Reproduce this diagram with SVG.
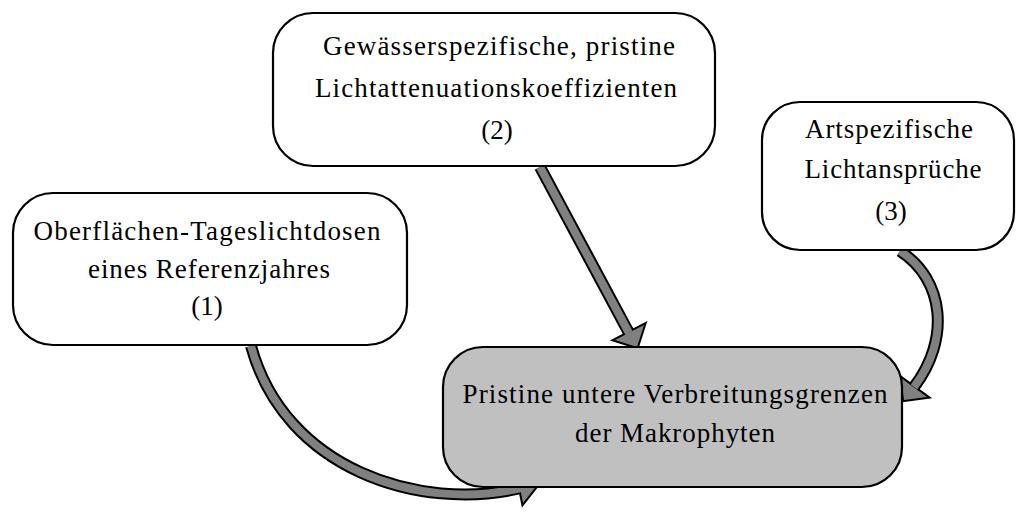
<svg xmlns="http://www.w3.org/2000/svg" width="1020" height="512" viewBox="0 0 1020 512">
<style>
.box{fill:#ffffff;stroke:#000;stroke-width:2.2}
.box.gray{fill:#c0c0c0}
text{font-family:"Liberation Serif","Times New Roman",serif;font-size:27px;fill:#000;text-anchor:middle}
.so{fill:none;stroke:#000;stroke-width:12}
.sf{fill:none;stroke:#808080;stroke-width:8}
.ho{fill:#000;stroke:#000;stroke-width:4;stroke-linejoin:miter}
.hf{fill:#808080}
</style>
<rect width="1020" height="512" fill="#fff"/>
<g id="connectors">
  <g id="c1">
    <path class="so" d="M251 346 C285 470 420 512 521 488"/>
    <polygon class="ho" points="538,484 517,473 523,503"/>
    <path class="sf" d="M251 346 C285 470 420 512 521 488"/>
    <polygon class="hf" points="538,484 517,473 523,503"/>
  </g>
  <g id="c2">
    <path class="so" d="M540 167 L629 333"/>
    <polygon class="ho" points="637,347 644,325 615,340"/>
    <path class="sf" d="M540 167 L629 333"/>
    <polygon class="hf" points="637,347 644,325 615,340"/>
  </g>
  <g id="c3">
    <path class="so" d="M900 251 C945 280 950 340 914 387"/>
    <polygon class="ho" points="904,400 927,397 901,378"/>
    <path class="sf" d="M900 251 C945 280 950 340 914 387"/>
    <polygon class="hf" points="904,400 927,397 901,378"/>
  </g>
</g>
<g id="n1">
  <rect class="box" x="13" y="193" width="394" height="152" rx="40"/>
  <text x="207" y="240" textLength="347" lengthAdjust="spacing">Oberflächen-Tageslichtdosen</text>
  <text x="209" y="278" textLength="242" lengthAdjust="spacing">eines Referenzjahres</text>
  <text x="207" y="315">(1)</text>
</g>
<g id="n2">
  <rect class="box" x="273" y="13" width="442" height="153" rx="40"/>
  <text x="499" y="55" textLength="352" lengthAdjust="spacing">Gewässerspezifische, pristine</text>
  <text x="496" y="97" textLength="362" lengthAdjust="spacing">Lichtattenuationskoeffizienten</text>
  <text x="497" y="139">(2)</text>
</g>
<g id="n3">
  <rect class="box" x="762" y="102" width="252" height="148" rx="38"/>
  <text x="889" y="138" textLength="168" lengthAdjust="spacing">Artspezifische</text>
  <text x="893" y="178" textLength="177" lengthAdjust="spacing">Lichtansprüche</text>
  <text x="891" y="220">(3)</text>
</g>
<g id="n4">
  <rect class="box gray" x="443" y="347" width="459" height="140" rx="40"/>
  <text x="675" y="403" textLength="425" lengthAdjust="spacing">Pristine untere Verbreitungsgrenzen</text>
  <text x="675" y="442" textLength="200" lengthAdjust="spacing">der Makrophyten</text>
</g>
</svg>
